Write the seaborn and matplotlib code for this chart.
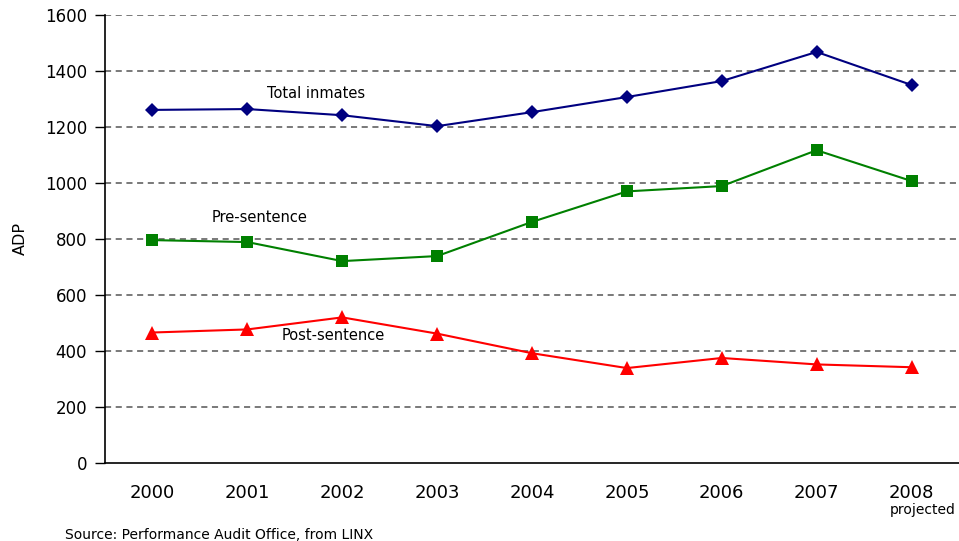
import pandas as pd
import matplotlib
matplotlib.use("Agg")
import matplotlib.pyplot as plt
from matplotlib.ticker import FixedLocator
import seaborn as sns

years = ["2000", "2001", "2002", "2003", "2004", "2005", "2006", "2007", "2008"]
total_inmates = [1261, 1264, 1242, 1203, 1253, 1307, 1364, 1468, 1350]
pre_sentence = [796, 789, 721, 739, 861, 970, 989, 1117, 1007]
post_sentence = [466, 477, 520, 462, 392, 339, 375, 352, 342]

sns.set_style("white")
plt.rcParams["font.family"] = ["DejaVu Sans"]
plt.rcParams["text.color"] = "black"
plt.rcParams["axes.labelcolor"] = "black"
plt.rcParams["xtick.color"] = "black"
plt.rcParams["ytick.color"] = "black"

df = pd.DataFrame({
    "pos": list(range(len(years))) * 3,
    "ADP": total_inmates + pre_sentence + post_sentence,
    "series": ["Total inmates"] * 9 + ["Pre-sentence"] * 9 + ["Post-sentence"] * 9,
})

fig = plt.figure(figsize=(9.59, 5.41), dpi=100)
ax = fig.add_axes([0.1095, 0.1442, 0.8905, 0.8281])

palette = {"Total inmates": "#000080", "Pre-sentence": "#008000", "Post-sentence": "#ff0000"}
markers = {"Total inmates": "D", "Pre-sentence": "s", "Post-sentence": "^"}
sizes = {"Total inmates": 7.5, "Pre-sentence": 9, "Post-sentence": 10}
for name in ["Total inmates", "Pre-sentence", "Post-sentence"]:
    sub = df[df["series"] == name]
    sns.lineplot(data=sub, x="pos", y="ADP", color=palette[name], marker=markers[name],
                 markersize=sizes[name], markeredgewidth=0, linewidth=1.5, ax=ax, legend=False)

ax.set_xlim(-0.5, len(years) - 0.5)
ax.set_ylim(0, 1600)
ax.set_yticks(range(0, 1601, 200))
ax.set_xticks(range(len(years)))
ax.set_xticklabels(years, fontsize=13)
ax.xaxis.set_minor_locator(FixedLocator([i - 0.5 for i in range(len(years) + 1)]))
ax.tick_params(axis="x", which="major", length=0, pad=15)
ax.tick_params(axis="x", which="minor", length=5, direction="out", width=1, color="black")
ax.tick_params(axis="y", length=7, direction="out", width=1, color="black", labelsize=12,
               left=True, pad=6)

for y in range(200, 1601, 200):
    ax.axhline(y, color="#555555", linestyle=(0, (4, 3)), linewidth=1.1, zorder=0)

for s in ["top", "right"]:
    ax.spines[s].set_visible(False)
for s in ["left", "bottom"]:
    ax.spines[s].set_color("black")
    ax.spines[s].set_linewidth(1.2)

ax.set_xlabel("")
ax.set_ylabel("ADP", fontsize=11.5, labelpad=12)

ax.text(1.21, 1321, "Total inmates", fontsize=10.5, ha="left", va="center")
ax.text(0.62, 875, "Pre-sentence", fontsize=10.5, ha="left", va="center")
ax.text(1.36, 454, "Post-sentence", fontsize=10.5, ha="left", va="center")

fig.text(0.9625, 0.057, "projected", fontsize=10, ha="center", va="center")
fig.text(0.068, 0.011, "Source: Performance Audit Office, from LINX", fontsize=10, ha="left", va="center")

fig.savefig("out.png", dpi=100)
